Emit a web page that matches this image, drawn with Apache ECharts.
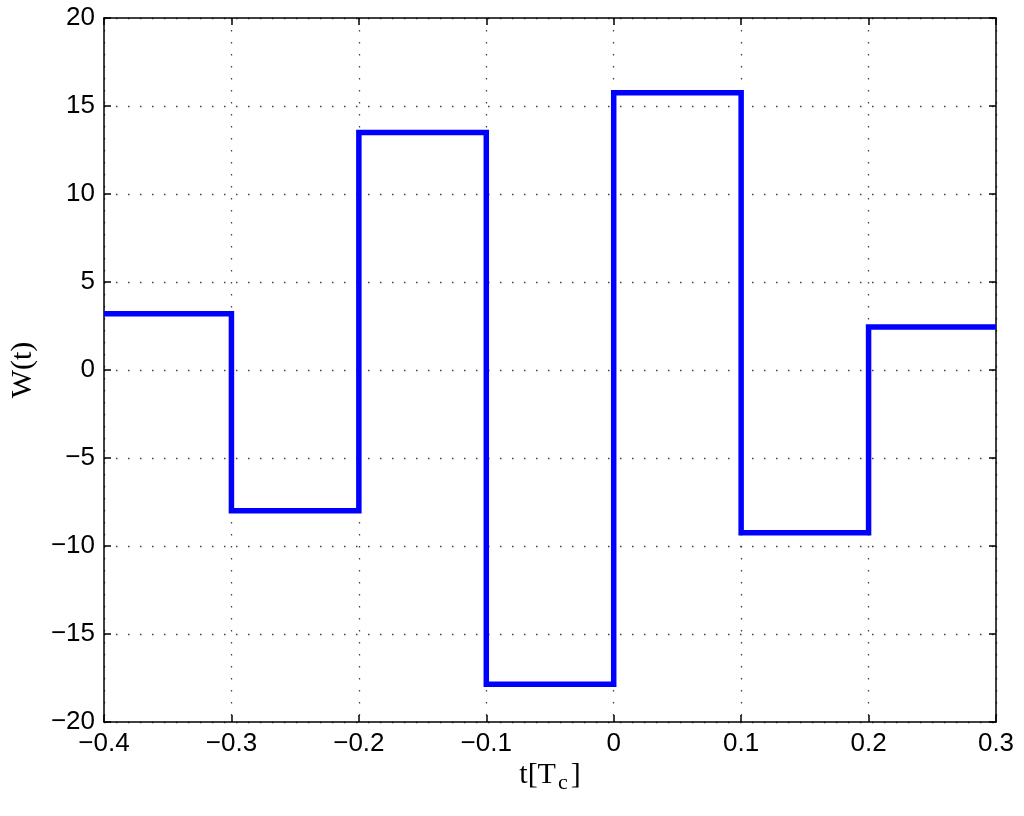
<!DOCTYPE html>
<html>
<head>
<meta charset="utf-8">
<script src="https://cdn.jsdelivr.net/npm/echarts@6/dist/echarts.min.js"></script>
<style>
  html, body { margin: 0; padding: 0; background: #fff; }
  #chart { width: 1024px; height: 816px; }
</style>
</head>
<body>
<div id="chart"></div>
<script>
// Step boundaries (t in units of Tc) and the constant level between each pair
const breaks = [-0.4, -0.3, -0.2, -0.1, 0.0, 0.1, 0.2, 0.3];
const levels = [3.2, -8.0, 13.5, -17.85, 15.75, -9.25, 2.45];
const xTicks = [-0.4, -0.3, -0.2, -0.1, 0, 0.1, 0.2, 0.3];
const yTicks = [-20, -15, -10, -5, 0, 5, 10, 15, 20];

// Build the step waveform from the arrays
const points = [];
for (let i = 0; i < levels.length; i++) {
  points.push([breaks[i], levels[i]]);
  points.push([breaks[i + 1], levels[i]]);
}

const minus = v => String(v).replace('-', '\u2212');
const tickFont = { fontFamily: 'Liberation Sans, Arial, sans-serif', fontSize: 26, color: '#000' };
const serif = 'Liberation Serif, Times New Roman, serif';
const frame = { onZero: false, lineStyle: { color: '#000', width: 1.5 } };
const ticks = { show: true, inside: true, length: 7, lineStyle: { color: '#000', width: 1.5 } };
const gridDots = { show: true, lineStyle: { color: '#444', width: 1.3, type: [1.5, 10.5] } };

const chart = echarts.init(document.getElementById('chart'));
chart.setOption({
  backgroundColor: '#fff',
  animation: false,
  grid: { left: 104, right: 28, top: 18, bottom: 94, containLabel: false },
  xAxis: [
    {
      type: 'value', min: -0.4, max: 0.3, interval: 0.1,
      axisLine: frame,
      axisTick: ticks,
      axisLabel: Object.assign({ margin: 9, formatter: v => minus(+v.toFixed(1)) }, tickFont),
      splitLine: gridDots,
      name: '{m|t[T}{s|c}{m|]}',
      nameLocation: 'middle', nameGap: 38, nameMoveOverlap: false,
      nameTextStyle: {
        verticalAlign: 'top',
        rich: {
          m: { fontFamily: serif, fontSize: 30, color: '#000', lineHeight: 34, verticalAlign: 'top' },
          s: { fontFamily: serif, fontSize: 22, color: '#000', lineHeight: 22, verticalAlign: 'bottom', padding: [34, 3, 0, 2] }
        }
      }
    },
    {
      type: 'value', position: 'top', min: -0.4, max: 0.3, interval: 0.1,
      axisLine: frame,
      axisTick: ticks,
      axisLabel: { show: false }, splitLine: { show: false }
    }
  ],
  yAxis: [
    {
      type: 'value', min: -20, max: 20, interval: 5,
      axisLine: frame,
      axisTick: ticks,
      axisLabel: Object.assign({ margin: 9, formatter: v => minus(v) }, tickFont),
      splitLine: gridDots,
      name: 'W(t)', nameLocation: 'middle', nameGap: 66, nameMoveOverlap: false,
      nameTextStyle: { fontFamily: serif, fontSize: 30, color: '#000' }
    },
    {
      type: 'value', position: 'right', min: -20, max: 20, interval: 5,
      axisLine: frame,
      axisTick: ticks,
      axisLabel: { show: false }, splitLine: { show: false }
    }
  ],
  series: [{
    type: 'line',
    data: points,
    xAxisIndex: 0, yAxisIndex: 0,
    showSymbol: false, symbol: 'none',
    clip: true,
    lineStyle: { color: '#0000ff', width: 5.5, join: 'miter', cap: 'butt' }
  }]
});
</script>
</body>
</html>
